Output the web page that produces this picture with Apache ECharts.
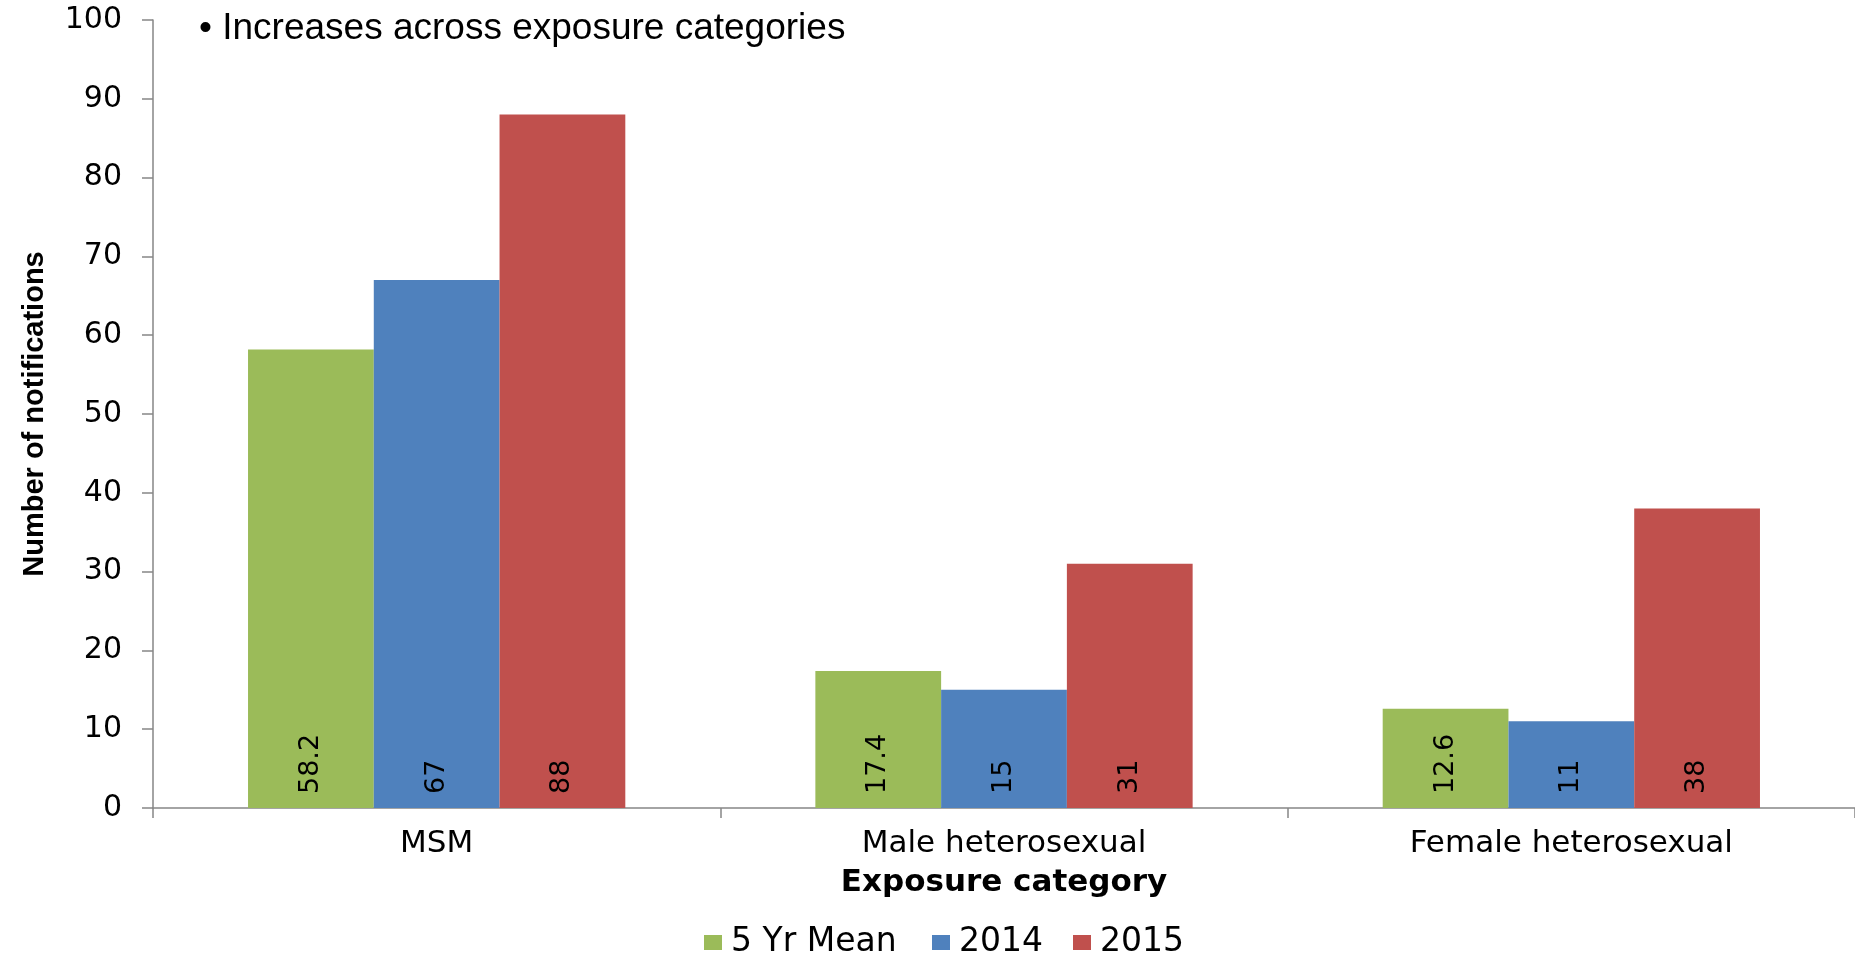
<!DOCTYPE html>
<html><head><meta charset="utf-8">
<script src="https://cdn.jsdelivr.net/npm/echarts@6/dist/echarts.min.js"></script>
<style>html,body{margin:0;padding:0;background:#fff}#c{width:1855px;height:957px}</style>
</head><body><div id="c"></div>
<script>
const categories = ['MSM', 'Male heterosexual', 'Female heterosexual'];
const seriesNames = ['5 Yr Mean', '2014', '2015'];
const mean5yr = [58.2, 17.4, 12.6];
const y2014 = [67, 15, 11];
const y2015 = [88, 31, 38];
const yMin = 0, yMax = 100, yInterval = 10;
const headline = '• Increases across exposure categories';
const yTitle = 'Number of notifications';
const xTitle = 'Exposure category';

const colors = ['#9BBB59', '#4F81BD', '#C0504D'];
const seriesData = [mean5yr, y2014, y2015];
const legendLefts = [704, 932, 1073];

const chart = echarts.init(document.getElementById('c'), null, {renderer: 'canvas'});
const axisColor = '#868686';
const stretchFont = 'DejaVu Sans';

chart.setOption({
  animation: false,
  backgroundColor: '#fff',
  graphic: [{
    type: 'text', left: 199, top: 10,
    style: {text: headline, font: '37px "Liberation Sans"', fill: '#000'}
  }],
  legend: seriesNames.map((n, i) => ({
    data: [n], left: legendLefts[i], top: 926, padding: 0, itemWidth: 18, itemHeight: 15, itemGap: 0,
    icon: 'rect',
    textStyle: {fontFamily: stretchFont, fontSize: 33, color: '#000', padding: [0, 0, 0, 4]}
  })),
  grid: {left: 153, right: -12, top: 20, bottom: 149, containLabel: false},
  xAxis: {
    type: 'category', data: categories,
    name: xTitle, nameLocation: 'middle', nameGap: 59,
    nameTextStyle: {fontFamily: stretchFont, fontWeight: 'bold', fontSize: 31, color: '#000'},
    axisLine: {show: true, lineStyle: {color: axisColor, width: 1.5}},
    axisTick: {show: true, length: 10, lineStyle: {color: axisColor, width: 1.5}},
    axisLabel: {fontFamily: stretchFont, fontSize: 31, color: '#000', margin: 20}
  },
  yAxis: {
    type: 'value', min: yMin, max: yMax, interval: yInterval,
    name: yTitle, nameLocation: 'middle', nameGap: 104, nameRotate: 90,
    nameTextStyle: {fontFamily: 'Liberation Sans', fontWeight: 'bold', fontSize: 29, color: '#000'},
    axisLine: {show: true, lineStyle: {color: axisColor, width: 1.5}},
    axisTick: {show: true, length: 11, lineStyle: {color: axisColor, width: 1.5}},
    axisLabel: {fontFamily: stretchFont, fontSize: 30, color: '#000', margin: 31},
    splitLine: {show: false}
  },
  series: seriesNames.map((n, i) => ({
    name: n, type: 'bar', data: seriesData[i],
    barGap: '0%', barCategoryGap: '33.5%',
    itemStyle: {color: colors[i]},
    label: {
      show: true, position: 'insideBottom', rotate: 90, align: 'left', verticalAlign: 'middle',
      distance: 14, fontFamily: stretchFont, fontSize: 27, color: '#000'
    }
  }))
});
</script></body></html>
